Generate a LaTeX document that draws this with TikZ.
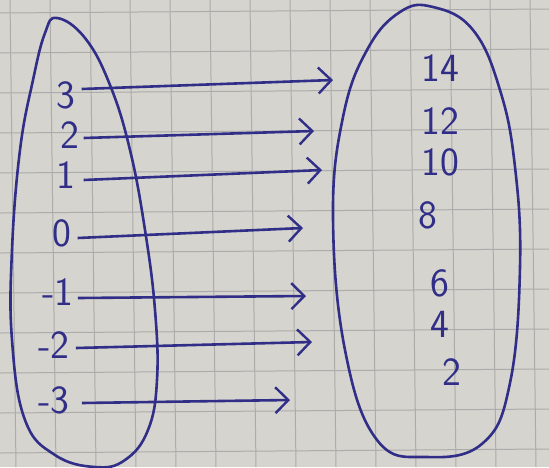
\documentclass[tikz,border=0pt]{standalone}
\usetikzlibrary{arrows.meta}
\definecolor{ink}{RGB}{48,46,135}
\definecolor{paper}{RGB}{214,212,207}
\definecolor{gridc}{RGB}{172,172,170}
\tikzset{
  num/.style={text=ink, font=\sffamily\fontsize{40}{42}\selectfont, inner sep=0pt},
  arr/.style={draw=ink, line width=2.6pt, -{Straight Barb[length=13pt,width=26pt,line width=2.4pt]}},
  oval/.style={draw=ink, line width=2.6pt},
  gridline/.style={draw=gridc, line width=1pt}
}
\begin{document}
\begin{tikzpicture}[x=1pt,y=-1pt]
\useasboundingbox (0,0) rectangle (549,467);
\fill[paper] (0,0) rectangle (549,467);
% paper grid
\foreach \gx in {10,50,...,530} \draw[gridline] (\gx,0) -- (\gx+6,467);
\foreach \gy in {13,53,...,453} \draw[gridline] (0,\gy) -- (549,\gy-4);

% left oval
\draw[oval] plot[smooth cycle, tension=0.7] coordinates {
  (57,18) (85,38) (110,85) (130,150) (145,230) (155,310) (157,380)
  (148,430) (125,460) (95,467) (55,455) (25,420) (12,340) (12,250)
  (20,150) (33,80) (45,33)};
% right oval
\draw[oval] plot[smooth cycle, tension=0.7] coordinates {
  (433,7) (473,30) (500,90) (515,167) (520,267) (510,383) (483,443)
  (427,457) (377,440) (345,350) (333,217) (343,117) (367,50) (400,12)};

% left values
\node[num] (l3)  at (66,95)  {3};
\node[num] (l2)  at (70,135) {2};
\node[num] (l1)  at (66,175) {1};
\node[num] (l0)  at (62,233) {0};
\node[num] (lm1) at (58,292) {-1};
\node[num] (lm2) at (54,345) {-2};
\node[num] (lm3) at (54,400) {-3};

% right values
\node[num] (r14) at (440,68)  {14};
\node[num] (r12) at (440,121) {12};
\node[num] (r10) at (440,162) {10};
\node[num] (r8)  at (428,215) {8};
\node[num] (r6)  at (440,283) {6};
\node[num] (r4)  at (440,324) {4};
\node[num] (r2)  at (452,372) {2};

% arrow ends
\coordinate (e3)  at (333,80);
\coordinate (e2)  at (314,131);
\coordinate (e1)  at (322,170);
\coordinate (e0)  at (303,228);
\coordinate (em1) at (306,296);
\coordinate (em2) at (312,342);
\coordinate (em3) at (290,400);

\draw[arr] (l3.east)  ++(6,-6) -- (e3);
\draw[arr] (l2.east)  ++(4,3)  -- (e2);
\draw[arr] (l1.east)  ++(8,5)  -- (e1);
\draw[arr] (l0.east)  ++(6,5)  -- (e0);
\draw[arr] (lm1.east) ++(4,6)  -- (em1);
\draw[arr] (lm2.east) ++(6,3)  -- (em2);
\draw[arr] (lm3.east) ++(12,3) -- (em3);
\end{tikzpicture}
\end{document}
